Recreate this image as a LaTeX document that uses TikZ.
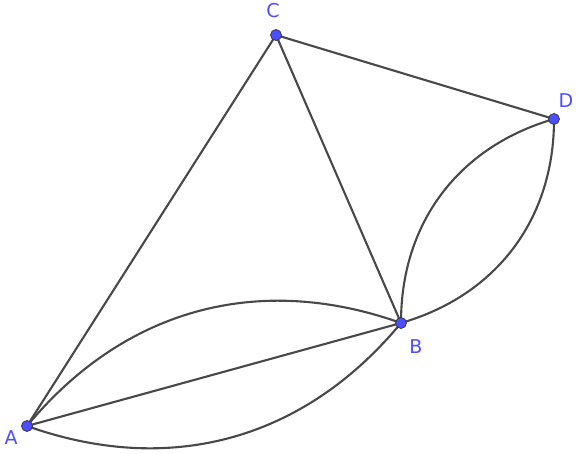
\documentclass[tikz,border=0pt]{standalone}
\usepackage{fontspec}
\setmainfont{DejaVu Sans}
\usepackage{tikz}
\definecolor{ptblue}{RGB}{77,77,255}
\definecolor{edgegray}{RGB}{72,72,72}

\begin{document}
\begin{tikzpicture}[
    x=1pt, y=-1pt,
    edge/.style={draw=edgegray, line width=2.1pt},
    pt/.style={circle, draw=black!80, line width=0.7pt, fill=ptblue, inner sep=0pt, minimum size=11pt},
    lbl/.style={text=ptblue, font=\fontsize{19}{21}\selectfont, inner sep=0pt}
  ]
    \useasboundingbox (0,0) rectangle (577,453);
    \coordinate (A) at (27,426);
    \coordinate (B) at (401,323);
    \coordinate (C) at (276,35);
    \coordinate (D) at (554,119);

    \draw[edge] (A) -- (C);
    \draw[edge] (C) -- (B);
    \draw[edge] (C) -- (D);
    \draw[edge] (A) -- (B);
    \draw[edge] (A) to[bend left=35] (B);
    \draw[edge] (A) to[bend right=35] (B);
    \draw[edge] (B) to[bend left=37] (D);
    \draw[edge] (B) to[bend right=37] (D);

    \foreach \p in {A,B,C,D}
      \node[pt] (dot\p) at (\p) {};

    \node[lbl] (labA) at (11,438) {A};
    \node[lbl] (labB) at (416,347) {B};
    \node[lbl] (labC) at (273,11) {C};
    \node[lbl] (labD) at (566,101) {D};
  \end{tikzpicture}
\end{document}
